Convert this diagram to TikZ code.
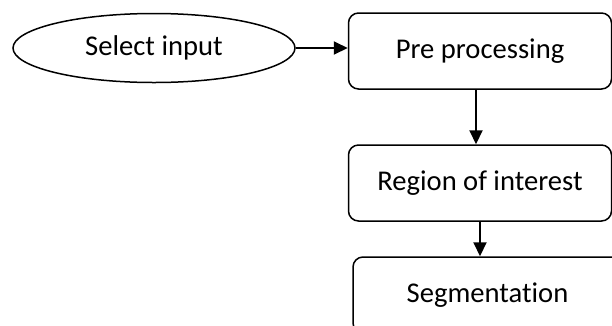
\documentclass[tikz,border=0pt]{standalone}
\usepackage{fontspec}
\setmainfont{Carlito}[Ligatures=NoCommon]
\usetikzlibrary{shapes.geometric,arrows.meta}

\begin{document}
\begin{tikzpicture}[x=1pt,y=-1pt,line width=2pt,-{Triangle[length=14pt,width=13pt]},
                    font=\fontsize{28.6}{34}\selectfont]
                \useasboundingbox (0,0) rectangle (612,325);
                \tikzstyle{oval}=[ellipse,draw=black,fill=white,line width=1.5pt,minimum width=282pt,minimum height=69pt,inner sep=0pt]
                \tikzstyle{block}=[rectangle,rounded corners=10pt,draw=black,fill=white,line width=1.5pt,inner sep=0pt]
                \node[oval] (input) at (154,48) {Select input};
                \foreach \name/\x/\y/\w/\h/\txt in {pre/480/51/263/76/Pre processing, roi/480/183/263/76/Region of interest, seg/487.5/295/269/76/Segmentation}
                        \node[block,minimum width=\w pt,minimum height=\h pt] (\name) at (\x,\y) {\txt};

                    \draw (input.east) -- (input.east -| pre.west);
                    \draw ([xshift=-4pt]pre.south) -- ([xshift=-4pt]roi.north);
                    \draw (roi.south) -- (roi.south |- seg.north);
            \end{tikzpicture}
\end{document}
